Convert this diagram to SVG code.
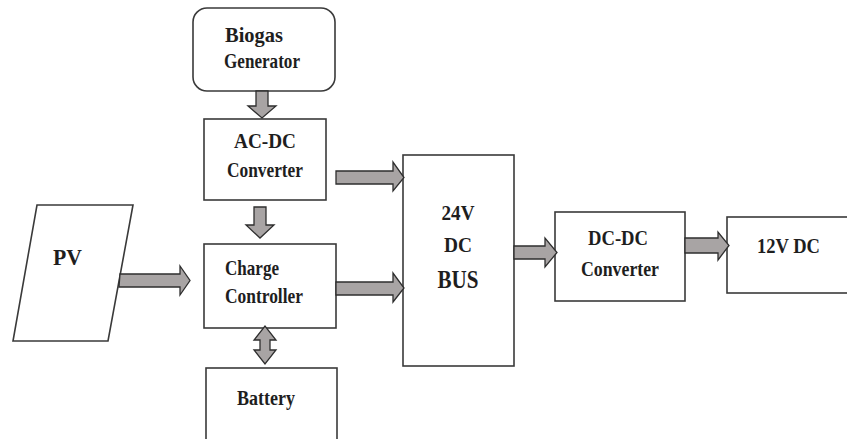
<svg xmlns="http://www.w3.org/2000/svg" width="847" height="439" viewBox="0 0 847 439">
<style>
.box{fill:#fff;stroke:#3a3a3a;stroke-width:1.6}
.arr{fill:#a8a4a4;stroke:#2e2e2e;stroke-width:1.3;stroke-linejoin:miter}
text{font-family:"Liberation Serif","Times New Roman",serif;font-weight:bold;fill:#1e1e1e;font-size:21px}
.c{text-anchor:middle}
</style>
<rect width="847" height="439" fill="#fff"/>
<g id="biogas">
<rect class="box" x="193" y="8" width="142" height="83" rx="14"/>
<text x="225" y="42" textLength="58" lengthAdjust="spacingAndGlyphs">Biogas</text>
<text x="224" y="68" textLength="76" lengthAdjust="spacingAndGlyphs">Generator</text>
</g>
<g id="acdc">
<rect class="box" x="204" y="119" width="122" height="81"/>
<text class="c" x="265" y="148" textLength="62" lengthAdjust="spacingAndGlyphs">AC-DC</text>
<text class="c" x="265" y="177" textLength="76" lengthAdjust="spacingAndGlyphs">Converter</text>
</g>
<g id="pv">
<polygon class="box" points="37,205 133,205 108,341 13,341"/>
<text x="53" y="265" style="font-size:23px" textLength="29" lengthAdjust="spacingAndGlyphs">PV</text>
</g>
<g id="charge">
<rect class="box" x="204" y="244" width="132" height="84"/>
<text x="225" y="275" textLength="54" lengthAdjust="spacingAndGlyphs">Charge</text>
<text x="225" y="303" textLength="78" lengthAdjust="spacingAndGlyphs">Controller</text>
</g>
<g id="battery">
<rect class="box" x="206" y="368" width="131" height="80"/>
<text class="c" x="266" y="405" textLength="58" lengthAdjust="spacingAndGlyphs">Battery</text>
</g>
<g id="bus">
<rect class="box" x="403" y="155" width="111" height="211"/>
<text class="c" x="458" y="220" textLength="33" lengthAdjust="spacingAndGlyphs">24V</text>
<text class="c" x="458" y="252" textLength="28" lengthAdjust="spacingAndGlyphs">DC</text>
<text class="c" x="458" y="288" style="font-size:25px" textLength="41" lengthAdjust="spacingAndGlyphs">BUS</text>
</g>
<g id="dcdc">
<rect class="box" x="555" y="212" width="130" height="89"/>
<text class="c" x="618" y="245" textLength="60" lengthAdjust="spacingAndGlyphs">DC-DC</text>
<text class="c" x="620" y="276" textLength="78" lengthAdjust="spacingAndGlyphs">Converter</text>
</g>
<g id="out12">
<rect class="box" x="727" y="217" width="130" height="76"/>
<text x="757" y="253" textLength="63" lengthAdjust="spacingAndGlyphs">12V DC</text>
</g>
<g id="connectors">
<polygon class="arr" points="256,91 268,91 268,106 276,106 262,118 248,106 256,106"/>
<polygon class="arr" points="254,207 266,207 266,225 274,225 260,238 246,225 254,225"/>
<polygon class="arr" points="260,340 260,350 254,350 265,364 276,350 270,350 270,340 276,340 265,326 254,340"/>
<polygon class="arr" points="120,274 180,274 180,266 190,280.5 180,295 180,287 119,287"/>
<polygon class="arr" points="336,171 393,171 393,162 404,177.5 393,191 393,184 336,184"/>
<polygon class="arr" points="336,282 393,282 393,273 404,288 393,302 393,295 336,295"/>
<polygon class="arr" points="514,246 545,246 545,238 557,252.5 545,267 545,259 514,259"/>
<polygon class="arr" points="685,238 718,238 718,232 729,245.5 718,260 718,253 685,253"/>
</g>
</svg>
